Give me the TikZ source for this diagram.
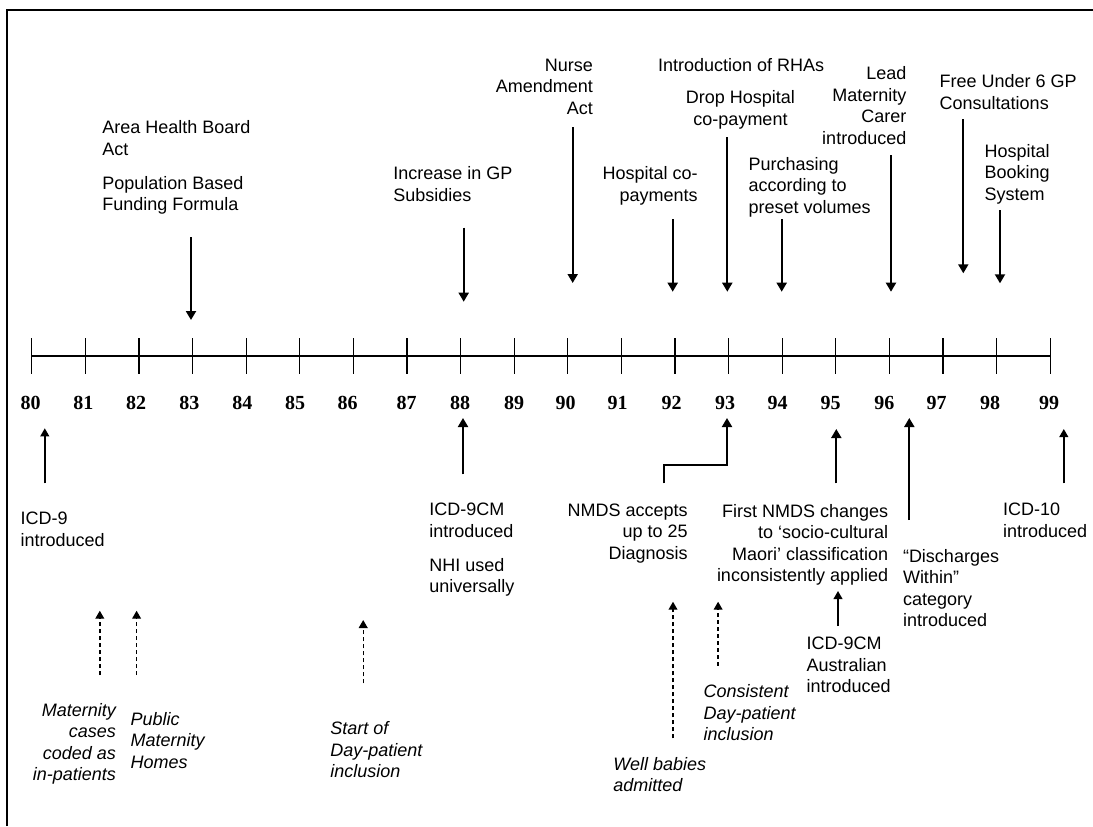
\documentclass[tikz,border=0pt]{standalone}
\usepackage{fontspec}
\setmainfont{Liberation Sans}
\newfontfamily\yrfont{Liberation Serif}
\usepackage{tikz}
\usetikzlibrary{arrows.meta}

\begin{document}
\begin{tikzpicture}[x=0.5pt,y=-0.5pt,
  every node/.style={font=\fontsize{9}{10.75}\selectfont,inner sep=0pt},
  ev/.style={anchor=base west,align=left},
  evr/.style={anchor=base east,align=right},
  evi/.style={ev,font=\fontsize{9}{10.75}\selectfont\itshape},
  evir/.style={evr,font=\fontsize{9}{10.75}\selectfont\itshape},
  yr/.style={anchor=base,font=\fontsize{10}{12}\selectfont\yrfont\bfseries},
  frame/.style={line width=0.8pt},
  arr/.style={-{Triangle[length=4.5pt,width=5pt]},line width=1pt},
  tarr/.style={-{Triangle[length=4pt,width=4.4pt]},line width=0.7pt},
  darr/.style={-{Triangle[length=4pt,width=4.4pt]},line width=0.7pt,dash pattern=on 2pt off 1.5pt}]
  \useasboundingbox (0,0) rectangle (1093,826);
  \draw[frame] (7,826) -- (7,10) -- (1093,10);
  \coordinate (ax0) at (31.7,356);
  \coordinate (ax1) at (1050,356);
  \draw[line width=0.6pt] (ax0) -- (ax1);
  \foreach \i in {0,...,19}
    \draw[line width=0.6pt] ({31.7+53.6*\i},338) -- ({31.7+53.6*\i},374);
  \foreach \yr/\lx in {80/30.7,81/83.3,82/136,83/189.3,84/242.3,85/295,86/347.7,87/406.7,88/460,89/514,
                       90/565.7,91/617.7,92/671.7,93/725,94/777.7,95/830.7,96/884.3,97/936.7,98/990,99/1049}
    \node[yr] (y\yr) at (\lx,409) {\yr};

  % multi-line nodes sit on the baseline of their last line
  \node[ev] (ahb) at (102,155) {Area Health Board\\Act};
  \node[ev] (pbf) at (102,210.7) {Population Based\\Funding Formula};
  \node[ev] (gps) at (393,201) {Increase in GP\\Subsidies};
  \node[evr] (nurse) at (593.3,114.3) {Nurse\\Amendment\\Act};
  \node[evr] (hcp) at (698,201) {Hospital co-\\payments};
  \node[ev] (rha) at (657.7,71.7) {Introduction of RHAs};
  \node[anchor=base,align=center] (drop) at (740.5,125) {Drop Hospital\\co-payment};
  \node[ev] (purch) at (748.3,213.3) {Purchasing\\according to\\preset volumes};
  \node[evr] (lmc) at (906.7,144.3) {Lead\\Maternity\\Carer\\introduced};
  \node[ev] (free) at (939.3,109.3) {Free Under 6 GP\\Consultations};
  \node[ev] (hbs) at (984.3,200) {Hospital\\Booking\\System};

  \foreach \n/\x/\ya/\yb in {a83/191/237/320,a88/463.7/227.7/301.7,a90/572.7/127/283,a92/672.7/219/291.7,
                             a93/727.3/137.3/291.7,a94/781.7/219/291.7,a96/891/155/291.7,a97/963.3/119/273.3,
                             a98/1000/210/283.3}{
    \coordinate (\n-s) at (\x,\ya);
    \coordinate (\n-e) at (\x,\yb);
    \draw[arr] (\n-s) -- (\n-e);
  }

  \node[ev] (icd9) at (20.3,546) {ICD-9\\introduced};
  \node[ev] (icd9cm) at (429,537.3) {ICD-9CM\\introduced};
  \node[ev] (nhi) at (429,592.7) {NHI used\\universally};
  \node[evr] (nmds) at (688.1,559) {NMDS accepts\\up to 25\\Diagnosis};
  \node[evr] (first) at (888.5,581.7) {First NMDS changes\\to ‘socio-cultural\\Maori’ classification\\inconsistently applied};
  \node[ev] (icdaus) at (806.3,692.7) {ICD-9CM\\Australian\\introduced};
  \node[ev] (disch) at (902.6,626.7) {“Discharges\\Within”\\category\\introduced};
  \node[ev] (icd10) at (1002.8,537) {ICD-10\\introduced};
  \node[evir] (mat) at (116.3,780.7) {Maternity\\cases\\coded as\\in-patients};
  \node[evi] (pmh) at (130.3,768.3) {Public\\Maternity\\Homes};
  \node[evi] (sday) at (330,777.7) {Start of\\Day-patient\\inclusion};
  \node[evi] (cons) at (703.3,740.7) {Consistent\\Day-patient\\inclusion};
  \node[evi] (well) at (613,791.7) {Well babies\\admitted};

  \foreach \n/\x/\ya/\yb/\st in {b80/44.8/483.3/428.3/tarr,b88/463/474.3/418/arr,b95/836.3/483.3/429/arr,
                                 b95i/838/626/591/tarr,b96/909.3/520/418/arr,b99/1063.8/483.3/429/tarr,
                                 d82a/99.8/675/610.7/darr,d82b/136.6/675/610.7/darr,d86/363.2/683.3/620/darr,
                                 d92/673/738.3/601.7/darr,d93/718.1/665.7/601.7/darr}{
    \coordinate (\n-s) at (\x,\ya);
    \coordinate (\n-e) at (\x,\yb);
    \draw[\st] (\n-s) -- (\n-e);
  }
  \coordinate (b93-s) at (663.5,483.3);
  \coordinate (b93-m) at (727,465);
  \coordinate (b93-e) at (727,418);
  \draw[arr] (b93-s) |- (b93-m) -- (b93-e);
\end{tikzpicture}
\end{document}
